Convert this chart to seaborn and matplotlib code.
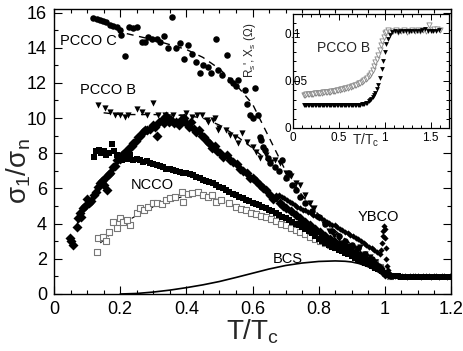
import matplotlib
matplotlib.use("Agg")
import matplotlib.pyplot as plt
from matplotlib.ticker import MultipleLocator
import pandas as pd
import seaborn as sns

# ---------------- data (T/Tc, sigma1/sigman) ----------------
PCCO_C = [(0.118,15.7),(0.129,15.64),(0.139,15.6),(0.149,15.5),(0.157,15.47),(0.169,15.28),(0.179,15.23),
          (0.189,15.15),(0.200,15.0),(0.204,14.75),(0.215,13.5),(0.228,15.2),(0.238,15.1),(0.250,15.2),
          (0.265,14.33),(0.275,14.33),(0.285,14.6),(0.295,14.5),(0.310,14.47),(0.320,14.33),(0.333,14.66),
          (0.345,14.0),(0.357,15.76),(0.370,14.0),(0.381,14.28),(0.393,13.33),(0.406,14.15),(0.416,13.67),
          (0.429,13.2),(0.441,12.57),(0.451,13.0),(0.466,12.9),(0.476,12.54),(0.489,14.5),(0.496,12.72),
          (0.507,12.44),(0.524,13.6),(0.532,12.16),(0.542,12.0),(0.550,11.8),(0.557,12.16),(0.577,11.6),
          (0.584,10.8),(0.592,10.17),(0.602,10.0),(0.607,11.69),(0.616,10.2),(0.622,8.94),(0.627,8.75),
          (0.632,8.37),(0.637,8.18),(0.647,7.71),(0.653,7.43),(0.668,7.23),(0.680,7.0),(0.690,7.6),
          (0.700,6.6),(0.710,6.9),(0.720,6.2),(0.730,5.9),(0.745,5.5),(0.760,5.2),(0.780,4.7),(0.800,4.4),
          (0.820,4.0),(0.840,3.6),(0.860,3.3),(0.880,3.0),(0.900,2.8),(0.920,2.6),(0.940,2.3),(0.960,2.0),
          (0.980,1.6),(1.000,1.2),(1.020,1.0)]

PCCO_B = [(0.134,10.74),(0.154,10.55),(0.169,10.36),(0.184,10.17),(0.199,10.17),(0.215,10.08),(0.225,10.17),
          (0.25,10.5),(0.265,10.36),(0.28,10.17),(0.30,10.83),(0.315,10.17),(0.335,10.17),(0.36,10.17),
          (0.386,10.08),(0.40,10.27),(0.416,10.08),(0.431,10.17),(0.446,10.17),(0.461,9.89),(0.466,9.79),
          (0.481,9.89),(0.486,9.98),(0.496,9.32),(0.50,9.41),(0.52,9.32),(0.532,9.03),(0.547,8.94),
          (0.557,8.56),(0.567,9.13),(0.582,8.65),(0.602,8.37),(0.612,8.09),(0.622,7.71),(0.64,7.9),
          (0.655,7.5),(0.668,7.61),(0.683,7.43),(0.70,6.9),(0.715,6.7),(0.73,6.3),(0.743,6.2),(0.76,5.6),
          (0.773,5.2),(0.785,4.9),(0.80,4.3),(0.815,4.0),(0.83,3.6),(0.845,3.3),(0.86,3.1),(0.875,2.9),
          (0.89,2.75),(0.905,2.6),(0.915,2.4),(0.925,2.7),(0.94,2.3),(0.955,2.1),(0.97,1.8),(0.985,1.5),
          (1.0,1.2),(1.015,1.0)]

PCCO_A = [(0.048,3.2),(0.052,3.0),(0.058,2.8),(0.069,3.8),(0.072,4.3),(0.078,4.6),(0.083,4.4),(0.088,4.9),
          (0.094,5.0),(0.100,5.4),(0.106,5.2),(0.112,5.3),(0.120,5.6),(0.128,5.8),(0.134,6.1),(0.139,6.3),
          (0.145,6.4),(0.150,6.2),(0.154,6.6),(0.159,5.9),(0.165,6.8),(0.170,6.9),(0.178,7.2),(0.185,7.3),
          (0.190,7.6),(0.198,7.7),(0.205,7.9),(0.212,8.0),(0.220,8.1),(0.228,8.3),(0.235,8.4),(0.240,8.6),
          (0.248,8.7),(0.255,8.9),(0.260,9.0),(0.268,9.2),(0.275,9.3),(0.282,9.3),(0.290,9.4),(0.298,9.6),
          (0.305,9.5),(0.310,9.0),(0.318,9.8),(0.325,9.9),(0.333,9.7),(0.340,10.1),(0.348,9.8),(0.355,9.9),
          (0.362,9.7),(0.370,9.8),(0.378,9.6),(0.385,9.9),(0.392,10.0),(0.400,9.7),(0.408,9.5),(0.415,9.8),
          (0.422,9.4),(0.430,9.2),(0.438,9.3),(0.446,9.0),(0.454,8.9),(0.462,8.7),(0.470,8.6),(0.478,8.3),
          (0.486,8.4),(0.494,8.1),(0.502,8.0),(0.512,7.8),(0.522,7.9),(0.532,7.6),(0.542,7.5),(0.552,7.4),
          (0.562,7.1),(0.572,7.0),(0.582,6.9),(0.592,6.6),(0.602,6.6),(0.612,6.4),(0.622,6.2),(0.632,6.0),
          (0.642,5.9),(0.652,5.6),(0.662,5.4),(0.672,5.5),(0.682,5.2),(0.692,5.0),(0.702,4.9),(0.715,4.7),
          (0.730,4.5),(0.745,4.3),(0.760,4.1),(0.775,3.9),(0.790,3.7),(0.805,3.5),(0.820,3.3),(0.835,3.15),
          (0.850,2.95),(0.865,2.8),(0.880,2.65),(0.895,2.5),(0.910,2.35),(0.925,2.2),(0.940,2.05),
          (0.955,1.9),(0.970,1.7),(0.985,1.45),(1.0,1.15)]

SQ_FILLED = [(0.120,7.8),(0.128,8.1),(0.135,8.2),(0.142,8.0),(0.150,8.1),(0.158,7.9),(0.165,8.0),(0.174,8.5),
             (0.182,8.1),(0.190,7.9),(0.198,7.8),(0.205,7.6),(0.213,7.8),(0.222,7.7),(0.230,7.9),(0.240,7.6),
             (0.250,7.7),(0.260,7.6),(0.270,7.5),(0.280,7.55),(0.290,7.45),(0.300,7.4),(0.310,7.35),
             (0.320,7.3),(0.330,7.2),(0.340,7.1),(0.350,7.1),(0.360,7.05),(0.370,7.0),(0.380,6.95),
             (0.390,6.9),(0.400,6.85),(0.410,6.8),(0.420,6.75),(0.430,6.65),(0.440,6.6),(0.450,6.5),
             (0.460,6.45),(0.470,6.35),(0.480,6.3),(0.490,6.2),(0.500,6.1),(0.510,6.0),(0.520,5.9),
             (0.530,5.8),(0.540,5.7),(0.550,5.6),(0.560,5.5),(0.570,5.45),(0.580,5.35),(0.590,5.3),
             (0.600,5.2),(0.610,5.1),(0.620,5.05),(0.630,4.95),(0.640,4.9),(0.650,4.8),(0.660,4.7),
             (0.670,4.6),(0.680,4.5),(0.690,4.4),(0.700,4.3),(0.710,4.2),(0.720,4.1),(0.730,4.0),
             (0.740,3.9),(0.750,3.8),(0.760,3.7),(0.770,3.6),(0.780,3.45),(0.790,3.3),(0.800,3.1),
             (0.810,3.0),(0.820,2.9),(0.830,2.8),(0.840,2.7),(0.850,2.6),(0.860,2.5),(0.870,2.45),
             (0.880,2.35),(0.890,2.25),(0.900,2.15),(0.910,2.05),(0.920,1.95),(0.930,1.85),(0.940,1.75),
             (0.950,1.7),(0.960,1.6),(0.970,1.5),(0.980,1.4),(0.990,1.3),(1.000,1.2),(1.010,1.1),
             (1.020,1.05),(1.030,1.0),(1.040,1.0),(1.050,0.98),(1.060,0.99),(1.070,0.98),(1.080,0.97),
             (1.090,0.98),(1.100,0.97),(1.110,0.98),(1.120,0.97),(1.130,0.97),(1.140,0.98),(1.150,0.96),
             (1.160,0.97),(1.170,0.97),(1.180,0.96),(1.190,0.97),(1.198,0.97)]

NCCO = [(0.130,2.4),(0.134,3.16),(0.149,3.26),(0.157,3.03),(0.167,3.54),(0.179,4.1),(0.189,3.73),(0.200,4.3),
        (0.210,4.1),(0.230,3.92),(0.222,4.2),(0.250,4.62),(0.260,4.87),(0.272,4.75),(0.284,4.95),
        (0.300,5.15),(0.312,5.2),(0.325,5.1),(0.340,5.34),(0.352,5.45),(0.365,5.5),(0.386,5.81),
        (0.390,5.24),(0.405,5.7),(0.416,5.72),(0.436,5.81),(0.450,5.65),(0.466,5.53),(0.478,5.6),
        (0.490,5.24),(0.505,5.35),(0.530,5.15),(0.550,4.96),(0.565,4.85),(0.58,4.75),(0.595,4.6),
        (0.61,4.55),(0.625,4.45),(0.64,4.35),(0.655,4.25),(0.67,4.15),(0.685,4.0),(0.70,3.9),(0.715,3.75),
        (0.73,3.65),(0.745,3.5),(0.76,3.4),(0.775,3.25),(0.79,3.1),(0.805,3.0),(0.82,2.9),(0.835,2.8),
        (0.85,2.7),(0.865,2.6),(0.88,2.5),(0.895,2.4),(0.91,2.3),(0.925,2.2),(0.94,2.1),(0.955,1.95),
        (0.97,1.8),(0.985,1.55),(1.0,1.2),(1.015,1.05)]

YBCO = [(0.680,5.6),(0.688,5.5),(0.696,5.45),(0.704,5.35),(0.712,5.25),(0.720,5.15),(0.728,5.05),(0.736,4.95),
        (0.744,4.9),(0.752,4.8),(0.760,4.75),(0.768,4.65),(0.776,4.6),(0.784,4.5),(0.792,4.45),(0.800,4.35),
        (0.808,4.3),(0.816,4.2),(0.824,4.1),(0.832,4.05),(0.840,3.95),(0.848,3.9),(0.856,3.8),(0.864,3.7),
        (0.872,3.65),(0.880,3.55),(0.888,3.45),(0.896,3.35),(0.904,3.3),(0.912,3.2),(0.920,3.1),(0.928,3.0),
        (0.936,2.9),(0.944,2.8),(0.952,2.7),(0.960,2.6),(0.968,2.5),(0.976,2.4),(0.984,2.25),(0.988,2.5),
        (0.991,2.9),(0.993,3.3),(0.995,3.6),(0.997,3.85),(0.999,3.7),(1.001,3.2),(1.003,2.6),(1.005,2.0),
        (1.007,1.6),(1.010,1.35),(1.014,1.2),(1.018,1.1),(1.024,1.05),(1.030,1.02),(1.036,1.0),
        (1.044,1.02),(1.052,1.0),(1.060,1.01),(1.068,0.99),(1.076,1.01),(1.084,1.0),(1.092,1.02),
        (1.100,1.0),(1.108,0.99),(1.116,1.01),(1.124,1.0),(1.132,1.01),(1.140,0.99),(1.148,1.0),
        (1.156,1.01),(1.164,0.99),(1.172,1.0),(1.180,1.01),(1.188,0.99),(1.196,1.0)]

BCS = [(0.2,0.0),(0.25,0.03),(0.3,0.11),(0.35,0.22),(0.4,0.36),(0.45,0.52),(0.5,0.71),(0.55,0.94),(0.6,1.18),
       (0.65,1.42),(0.7,1.62),(0.75,1.76),(0.8,1.85),(0.85,1.88),(0.88,1.86),(0.9,1.82),(0.92,1.74),
       (0.94,1.62),(0.96,1.46),(0.98,1.25),(1.0,1.02),(1.1,1.0),(1.2,1.0)]

FIT_C = [(0.22,14.8),(0.3,14.45),(0.4,13.9),(0.45,13.45),(0.5,12.8),(0.55,11.9),(0.6,10.8),(0.65,8.9),
         (0.7,7.0),(0.75,5.6),(0.8,4.5),(0.85,3.6),(0.9,2.8),(0.95,2.0),(1.0,1.1)]
FIT_B = [(0.15,10.3),(0.2,10.2),(0.3,10.2),(0.4,10.15),(0.45,10.0),(0.5,9.6),(0.55,9.0),(0.6,8.3),(0.65,7.5),
         (0.7,6.7),(0.75,5.6),(0.8,4.5),(0.85,3.5),(0.9,2.8),(0.95,2.2),(1.0,1.2)]
FIT_A = [(0.07,4.0),(0.1,5.1),(0.15,6.5),(0.2,7.8),(0.25,8.8),(0.3,9.5),(0.35,9.85),(0.4,9.85),(0.45,9.1),
         (0.5,8.1),(0.55,7.3),(0.6,6.6),(0.65,5.7),(0.7,4.9)]
FIT_N = [(0.14,2.9),(0.2,3.9),(0.27,4.7),(0.33,5.2),(0.4,5.6),(0.45,5.6),(0.5,5.35),(0.6,4.7),(0.7,3.9),
         (0.8,3.05),(0.9,2.4),(0.95,2.0),(1.0,1.2)]

# inset: PCCO B surface impedance
XS_FILLED = [(0.12,0.0245),(0.135,0.0245),(0.15,0.0245),(0.165,0.0245),(0.18,0.0245),(0.195,0.0245),
             (0.21,0.0245),(0.225,0.0245),(0.24,0.0245),(0.255,0.0245),(0.27,0.0245),(0.285,0.0245),
             (0.30,0.0245),(0.315,0.0245),(0.33,0.0245),(0.345,0.0245),(0.36,0.0245),(0.375,0.0245),
             (0.39,0.0245),(0.405,0.0245),(0.42,0.0245),(0.435,0.0245),(0.45,0.0245),(0.465,0.0245),
             (0.48,0.0245),(0.495,0.0245),(0.51,0.0245),(0.525,0.0245),(0.54,0.0245),(0.555,0.0245),
             (0.57,0.0245),(0.585,0.0245),(0.60,0.0245),(0.615,0.0245),(0.63,0.0245),(0.645,0.0245),
             (0.66,0.0245),(0.675,0.0245),(0.69,0.0245),(0.705,0.0245),(0.72,0.0245),(0.735,0.0245),
             (0.75,0.025),(0.765,0.0252),(0.78,0.0255),(0.795,0.026),(0.81,0.0268),(0.825,0.028),
             (0.84,0.0295),(0.855,0.031),(0.87,0.033),(0.885,0.035),(0.90,0.037),(0.915,0.041),
             (0.93,0.045),(0.95,0.053),(0.967,0.062),(0.985,0.071),(1.00,0.080),(1.02,0.088),(1.04,0.094),
             (1.06,0.098),(1.08,0.101),(1.11,0.102),(1.14,0.1015),(1.17,0.102),(1.20,0.1025),(1.23,0.102),
             (1.26,0.102),(1.29,0.1025),(1.32,0.102),(1.35,0.102),(1.38,0.1025),(1.41,0.103),(1.44,0.104),
             (1.47,0.102),(1.50,0.1025),(1.53,0.102),(1.56,0.1025),(1.59,0.103)]

RS_OPEN = [(0.12,0.035),(0.135,0.0352),(0.15,0.0355),(0.165,0.0356),(0.18,0.0358),(0.195,0.036),(0.21,0.0361),
           (0.225,0.0363),(0.24,0.0364),(0.255,0.0366),(0.27,0.0368),(0.285,0.037),(0.30,0.0371),
           (0.315,0.0373),(0.33,0.0374),(0.345,0.0376),(0.36,0.0378),(0.375,0.038),(0.39,0.0381),
           (0.405,0.0383),(0.42,0.0385),(0.435,0.0387),(0.45,0.039),(0.465,0.0393),(0.48,0.0396),
           (0.495,0.04),(0.51,0.0403),(0.525,0.0407),(0.54,0.041),(0.555,0.0414),(0.57,0.0418),
           (0.585,0.0422),(0.60,0.0426),(0.615,0.043),(0.63,0.0435),(0.645,0.044),(0.66,0.0445),
           (0.675,0.045),(0.69,0.0456),(0.705,0.0463),(0.72,0.047),(0.735,0.0478),(0.75,0.0486),
           (0.765,0.0495),(0.78,0.0505),(0.795,0.0515),(0.81,0.053),(0.825,0.0545),(0.84,0.056),
           (0.855,0.058),(0.87,0.061),(0.885,0.065),(0.90,0.069),(0.915,0.073),(0.93,0.077),(0.945,0.082),
           (0.96,0.087),(0.975,0.092),(0.99,0.096),(1.005,0.0995),(1.02,0.1015),(1.04,0.103),(1.06,0.1015),
           (1.09,0.1025),(1.12,0.103),(1.15,0.1015),(1.18,0.1025),(1.21,0.103),(1.24,0.1015),(1.27,0.102),
           (1.30,0.1035),(1.33,0.102),(1.36,0.103),(1.39,0.1025),(1.42,0.1035),(1.45,0.102),(1.48,0.108),
           (1.51,0.103),(1.54,0.1045),(1.57,0.104),(1.60,0.1035)]

XTICKS = [0, 0.2, 0.4, 0.6, 0.8, 1.0, 1.2]
XTICKLABELS = ["0", "0.2", "0.4", "0.6", "0.8", "1", "1.2"]
YTICKS = [0, 2, 4, 6, 8, 10, 12, 14, 16]
YTICKLABELS = ["0", "2", "4", "6", "8", "10", "12", "14", "16"]
IN_XTICKS = [0, 0.5, 1.0, 1.5]
IN_XTICKLABELS = ["0", "0.5", "1", "1.5"]
IN_YTICKS = [0, 0.05, 0.1]
IN_YTICKLABELS = ["0", "0.05", "0.1"]


def df(pairs):
    return pd.DataFrame(pairs, columns=["t", "v"])


# ---------------- style ----------------
sns.set_style("ticks")
plt.rcParams["font.family"] = ["Liberation Sans", "DejaVu Sans"]
plt.rcParams["mathtext.fontset"] = "custom"
plt.rcParams["mathtext.rm"] = "Liberation Sans"
plt.rcParams["mathtext.it"] = "Liberation Sans:italic"
plt.rcParams["mathtext.bf"] = "Liberation Sans:bold"
plt.rcParams["axes.linewidth"] = 1.0

W, H = 463, 351
fig = plt.figure(figsize=(W / 100, H / 100), dpi=100)
ax = fig.add_axes([54 / W, 1 - 294 / H, (451 - 54) / W, (294 - 9) / H])

# ---------------- main panel ----------------
line_kw = dict(color="black", estimator=None, sort=False, legend=False)
sc_kw = dict(legend=False, linewidth=0)

sns.lineplot(data=df(BCS), x="t", y="v", ax=ax, lw=1.2, **line_kw)
sns.lineplot(data=df(FIT_N), x="t", y="v", ax=ax, lw=0.8, dashes=(4, 5), **line_kw)

sns.scatterplot(data=df(NCCO), x="t", y="v", ax=ax, marker="s", s=24, facecolor="white",
                edgecolor="#777777", legend=False, zorder=3)
ax.collections[-1].set_linewidth(0.8)
sns.scatterplot(data=df(SQ_FILLED), x="t", y="v", ax=ax, marker="s", s=20, color="black", zorder=4, **sc_kw)
sns.scatterplot(data=df(PCCO_A), x="t", y="v", ax=ax, marker="D", s=26, color="black", zorder=4, **sc_kw)
sns.scatterplot(data=df(YBCO), x="t", y="v", ax=ax, marker="D", s=10, color="black", zorder=4, **sc_kw)
sns.scatterplot(data=df(PCCO_B), x="t", y="v", ax=ax, marker="v", s=20, color="black", zorder=4, **sc_kw)
sns.scatterplot(data=df(PCCO_C), x="t", y="v", ax=ax, marker="o", s=22, color="black", zorder=4, **sc_kw)

for fit in (FIT_C, FIT_B, FIT_A):
    sns.lineplot(data=df(fit), x="t", y="v", ax=ax, lw=1.0, dashes=(5, 4), **line_kw)

ax.set_xlim(0, 1.2)
ax.set_ylim(0, 16.2)
ax.set_xticks(XTICKS)
ax.set_xticklabels(XTICKLABELS)
ax.set_yticks(YTICKS)
ax.set_yticklabels(YTICKLABELS)
ax.xaxis.set_minor_locator(MultipleLocator(0.05))
ax.yaxis.set_minor_locator(MultipleLocator(1))
ax.tick_params(which="both", direction="in", top=True, right=True, width=0.8, labelsize=13, colors="black")
ax.tick_params(which="major", length=6, pad=5)
ax.tick_params(which="minor", length=3)
for s in ax.spines.values():
    s.set_color("black")

ax.set_xlabel(r"T/T$_\mathrm{c}$", fontsize=20, labelpad=0)
ax.set_ylabel(r"σ$_\mathrm{1}$/σ$_\mathrm{n}$", fontsize=20)
ax.yaxis.set_label_coords(-0.053, 0.43)

txt_kw = dict(fontsize=10.5, ha="center", va="center", color="black")
ax.text(0.105, 14.39, "PCCO C", **txt_kw)
ax.text(0.163, 11.59, "PCCO B", **txt_kw)
ax.text(0.296, 6.19, "NCCO", **txt_kw)
ax.text(0.979, 4.38, "YBCO", **txt_kw)
ax.text(0.707, 1.99, "BCS", **txt_kw)

# ---------------- inset ----------------
ins = fig.add_axes([292.7 / W, 1 - 128 / H, (449 - 292.7) / W, (128 - 14) / H])
ins.set_facecolor("white")
sns.scatterplot(data=df(RS_OPEN), x="t", y="v", ax=ins, marker="v", s=14, facecolor="white",
                edgecolor="#888888", legend=False)
ins.collections[-1].set_linewidth(0.6)
sns.scatterplot(data=df(XS_FILLED), x="t", y="v", ax=ins, marker="v", s=12, color="black", **sc_kw)
ins.set_xlim(0, 1.7)
ins.set_ylim(0, 0.12)
ins.set_xticks(IN_XTICKS)
ins.set_xticklabels(IN_XTICKLABELS)
ins.set_yticks(IN_YTICKS)
ins.set_yticklabels(IN_YTICKLABELS)
ins.xaxis.set_minor_locator(MultipleLocator(0.1))
ins.yaxis.set_minor_locator(MultipleLocator(0.01))
ins.tick_params(which="both", direction="in", top=True, right=True, width=0.7, labelsize=8.5, colors="black")
ins.tick_params(which="major", length=4, pad=3)
ins.tick_params(which="minor", length=2)
ins.tick_params(axis="y", pad=6)
for lbl in ins.get_yticklabels():
    lbl.set_horizontalalignment("left")
for s in ins.spines.values():
    s.set_color("black")
    s.set_linewidth(0.9)
ins.set_xlabel(r"T/T$_\mathrm{c}$", fontsize=10)
ins.xaxis.set_label_coords(0.469, -0.03)
ins.set_ylabel(r"R$_\mathrm{s}$', X$_\mathrm{s}$ (Ω)", fontsize=8.5)
ins.yaxis.set_label_coords(-0.22, 0.68)
ins.text(0.552, 0.0842, "PCCO B", fontsize=10, ha="center", va="center")

fig.savefig("out.png", dpi=100)
